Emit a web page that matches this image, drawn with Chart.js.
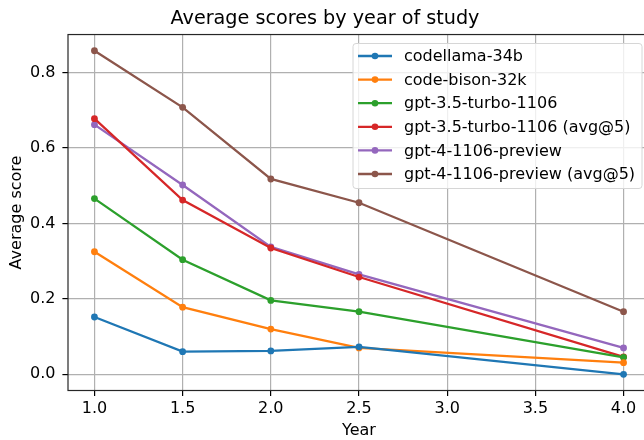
<!DOCTYPE html>
<html>
<head>
<meta charset="utf-8">
<script src="https://cdn.jsdelivr.net/npm/chart.js@4/dist/chart.umd.min.js"></script>
<style>
  html, body { margin: 0; padding: 0; background: #fff; overflow: hidden; }
  #wrap { width: 660px; height: 440px; }
</style>
</head>
<body>
<div id="wrap"><canvas id="scoreChart" width="660" height="440"></canvas></div>
<script>
const years = [1.0, 1.5, 2.0, 2.5, 4.0];
const xTicks = [1.0, 1.5, 2.0, 2.5, 3.0, 3.5, 4.0];
const yTicks = [0.0, 0.2, 0.4, 0.6, 0.8];

const modelNames = [
  "codellama-34b",
  "code-bison-32k",
  "gpt-3.5-turbo-1106",
  "gpt-3.5-turbo-1106 (avg@5)",
  "gpt-4-1106-preview",
  "gpt-4-1106-preview (avg@5)",
];
const modelColors = ["#1f77b4", "#ff7f0e", "#2ca02c", "#d62728", "#9467bd", "#8c564b"];

const codellama = [0.152, 0.060, 0.062, 0.073, 0.000];
const codeBison = [0.325, 0.178, 0.120, 0.070, 0.031];
const gpt35 = [0.466, 0.304, 0.196, 0.166, 0.045];
const gpt35Avg5 = [0.678, 0.462, 0.335, 0.258, 0.046];
const gpt4 = [0.662, 0.502, 0.338, 0.265, 0.070];
const gpt4Avg5 = [0.858, 0.708, 0.518, 0.455, 0.166];

const seriesValues = [codellama, codeBison, gpt35, gpt35Avg5, gpt4, gpt4Avg5];

const font = "'DejaVu Sans', sans-serif";

// matplotlib style frame + legend in the upper right of the axes
const mplFrame = {
  id: "mplFrame",
  afterDatasetsDraw(chart) {
    const { ctx, chartArea } = chart;
    ctx.save();
    ctx.strokeStyle = "#262626";
    ctx.lineWidth = 1.2;
    ctx.strokeRect(chartArea.left, chartArea.top, chartArea.right - chartArea.left, chartArea.bottom - chartArea.top);

    // legend box
    const bx = 353, by = 43.5, bw = 289, bh = 145, r = 3;
    ctx.beginPath();
    ctx.moveTo(bx + r, by);
    ctx.arcTo(bx + bw, by, bx + bw, by + bh, r);
    ctx.arcTo(bx + bw, by + bh, bx, by + bh, r);
    ctx.arcTo(bx, by + bh, bx, by, r);
    ctx.arcTo(bx, by, bx + bw, by, r);
    ctx.closePath();
    ctx.fillStyle = "rgba(255,255,255,0.8)";
    ctx.fill();
    ctx.strokeStyle = "#d6d6d6";
    ctx.lineWidth = 1;
    ctx.stroke();

    ctx.font = "16px " + font;
    ctx.textBaseline = "middle";
    chart.data.datasets.forEach((ds, i) => {
      const cy = 56 + i * 23.6;
      ctx.strokeStyle = ds.borderColor;
      ctx.lineWidth = 2.3;
      ctx.beginPath();
      ctx.moveTo(358, cy);
      ctx.lineTo(392, cy);
      ctx.stroke();
      ctx.fillStyle = ds.borderColor;
      ctx.beginPath();
      ctx.arc(375, cy, 3.3, 0, Math.PI * 2);
      ctx.fill();
      ctx.fillStyle = "#000";
      ctx.fillText(ds.label, 404, cy + 1);
    });
    ctx.restore();
  },
};

const datasets = seriesValues.map((vals, i) => ({
  label: modelNames[i],
  data: years.map((x, j) => ({ x: x, y: vals[j] })),
  borderColor: modelColors[i],
  backgroundColor: modelColors[i],
  borderWidth: 2.3,
  pointRadius: 3.4,
  pointBorderWidth: 0,
  tension: 0,
  fill: false,
}));

let ctx = document.getElementById("scoreChart").getContext("2d");

new Chart(ctx, {
  type: "line",
  data: { datasets: datasets },
  options: {
    responsive: false,
    animation: false,
    layout: { padding: { left: 0, right: 10, top: 0, bottom: 0 } },
    plugins: {
      legend: { display: false },
      tooltip: { enabled: false },
      title: {
        display: true,
        text: "Average scores by year of study",
        color: "#000",
        font: { family: font, size: 19.2, weight: "normal" },
        padding: { top: 7, bottom: 4.5 },
      },
    },
    scales: {
      x: {
        type: "linear",
        min: 0.85,
        max: 4.15,
        afterBuildTicks: (scale) => {
          scale.ticks = xTicks.map((v) => ({ value: v }));
        },
        afterFit: (scale) => {
          scale.height = 49.5;
        },
        grid: {
          color: "#b0b0b0",
          lineWidth: 1.2,
          tickColor: "#000",
          tickLength: 5.6,
          drawOnChartArea: true,
        },
        border: { display: false },
        ticks: {
          color: "#000",
          padding: 3,
          font: { family: font, size: 16 },
          callback: (v) => v.toFixed(1),
          maxRotation: 0,
        },
        title: {
          display: true,
          text: "Year",
          color: "#000",
          font: { family: font, size: 16 },
          padding: { top: 0, bottom: 0 },
        },
      },
      y: {
        type: "linear",
        min: -0.0429,
        max: 0.901,
        afterBuildTicks: (scale) => {
          scale.ticks = yTicks.map((v) => ({ value: v }));
        },
        afterFit: (scale) => {
          scale.width = 68;
        },
        grid: {
          color: "#b0b0b0",
          lineWidth: 1.2,
          tickColor: "#000",
          tickLength: 5.6,
        },
        border: { display: false },
        ticks: {
          color: "#000",
          padding: 7,
          font: { family: font, size: 16 },
          callback: (v) => v.toFixed(1),
        },
        title: {
          display: true,
          text: "Average score",
          color: "#000",
          font: { family: font, size: 16 },
          padding: { top: 7.5, bottom: 0 },
        },
      },
    },
  },
  plugins: [mplFrame],
});
</script>
</body>
</html>
